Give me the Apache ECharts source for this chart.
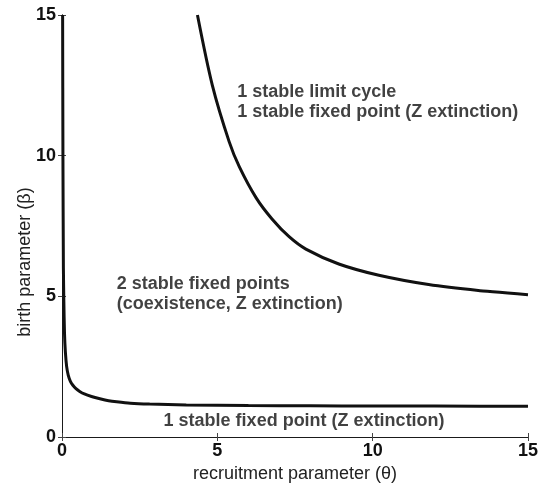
<!DOCTYPE html>
<html><head><meta charset="utf-8">
<script src="https://cdn.jsdelivr.net/npm/echarts@6/dist/echarts.min.js"></script>
<style>html,body{margin:0;padding:0;background:#fff}#c{width:541px;height:489px}</style>
</head><body><div id="c"></div>
<script>
const xTicks = [0, 5, 10, 15];
const yTicks = [0, 5, 10, 15];
const lowerTheta = [0.02, 0.03, 0.045, 0.06, 0.08, 0.11, 0.15, 0.2, 0.27, 0.35, 0.45, 0.57, 0.72, 0.95, 1.22, 1.5, 1.76, 2.2, 2.82, 4, 6, 8, 10, 12, 15];
const lowerBeta  = [15, 10, 6, 4.8, 3.7, 3.0, 2.5, 2.2, 1.98, 1.84, 1.72, 1.62, 1.53, 1.44, 1.36, 1.29, 1.25, 1.2, 1.17, 1.14, 1.12, 1.11, 1.1, 1.1, 1.09];
const upperTheta = [4.36, 4.84, 5.38, 5.71, 6.25, 6.76, 7.31, 7.85, 8.91, 10.2, 11.8, 13.4, 15];
const upperBeta  = [15, 12.5, 10.5, 9.6, 8.5, 7.75, 7.12, 6.68, 6.15, 5.75, 5.42, 5.21, 5.06];
const labels = [
  {x: 5.64, y: 11.89, lines: ['1 stable limit cycle', '1 stable fixed point (Z extinction)']},
  {x: 1.76, y: 5.07, lines: ['2 stable fixed points', '(coexistence, Z extinction)']},
  {x: 3.27, y: 0.57, lines: ['1 stable fixed point (Z extinction)']}
];
const xName = 'recruitment parameter (θ)';
const yName = 'birth parameter (β)';

const font = '"Liberation Sans", Arial, Helvetica, sans-serif';
const zip = (a, b) => a.map((v, i) => [v, b[i]]);
const chart = echarts.init(document.getElementById('c'));
const axBase = {
  type: 'value', min: 0, max: 15, interval: 5,
  axisLine: {show: true, lineStyle: {color: '#1a1a1a', width: 1}},
  axisTick: {show: true, inside: true, length: 4, lineStyle: {color: '#444'}},
  splitLine: {show: false}
};
chart.setOption({
  animation: false,
  grid: {left: 62, right: 11, top: 15, bottom: 52},
  xAxis: [
    Object.assign({}, axBase, {
      position: 'bottom',
      name: xName, nameLocation: 'middle', nameGap: 22,
      nameTextStyle: {fontFamily: font, fontSize: 18, color: '#222'},
      axisLabel: {fontFamily: font, fontSize: 18, fontWeight: 'bold', color: '#111', margin: 5,
        formatter: v => xTicks.includes(v) ? String(v) : ''}
    }),
    Object.assign({}, axBase, {position: 'top', axisLabel: {show: false}})
  ],
  yAxis: [
    Object.assign({}, axBase, {
      position: 'left',
      axisLabel: {fontFamily: font, fontSize: 18, fontWeight: 'bold', color: '#111', margin: 6,
        formatter: v => yTicks.includes(v) ? String(v) : ''}
    }),
    Object.assign({}, axBase, {position: 'right', axisLabel: {show: false}})
  ],
  graphic: [{
    type: 'text', x: 25, y: 262, rotation: Math.PI / 2,
    style: {text: yName, font: '18px ' + font, fill: '#222', align: 'center', verticalAlign: 'middle'}
  }],
  series: [
    {type: 'line', data: zip(lowerTheta, lowerBeta), smooth: 0.2, symbol: 'none',
     lineStyle: {color: '#111', width: 3}, clip: true},
    {type: 'line', data: zip(upperTheta, upperBeta), smooth: 0.3, symbol: 'none',
     lineStyle: {color: '#111', width: 3}, clip: true},
    {type: 'scatter', symbolSize: 0, silent: true,
     data: labels.map(l => ({value: [l.x, l.y], label: {show: true, position: 'right', distance: 0,
        formatter: l.lines.join('\n'), fontFamily: font, fontSize: 18, fontWeight: 'bold',
        color: '#111', lineHeight: 20, align: 'left'}}))}
  ]
});
</script></body></html>
